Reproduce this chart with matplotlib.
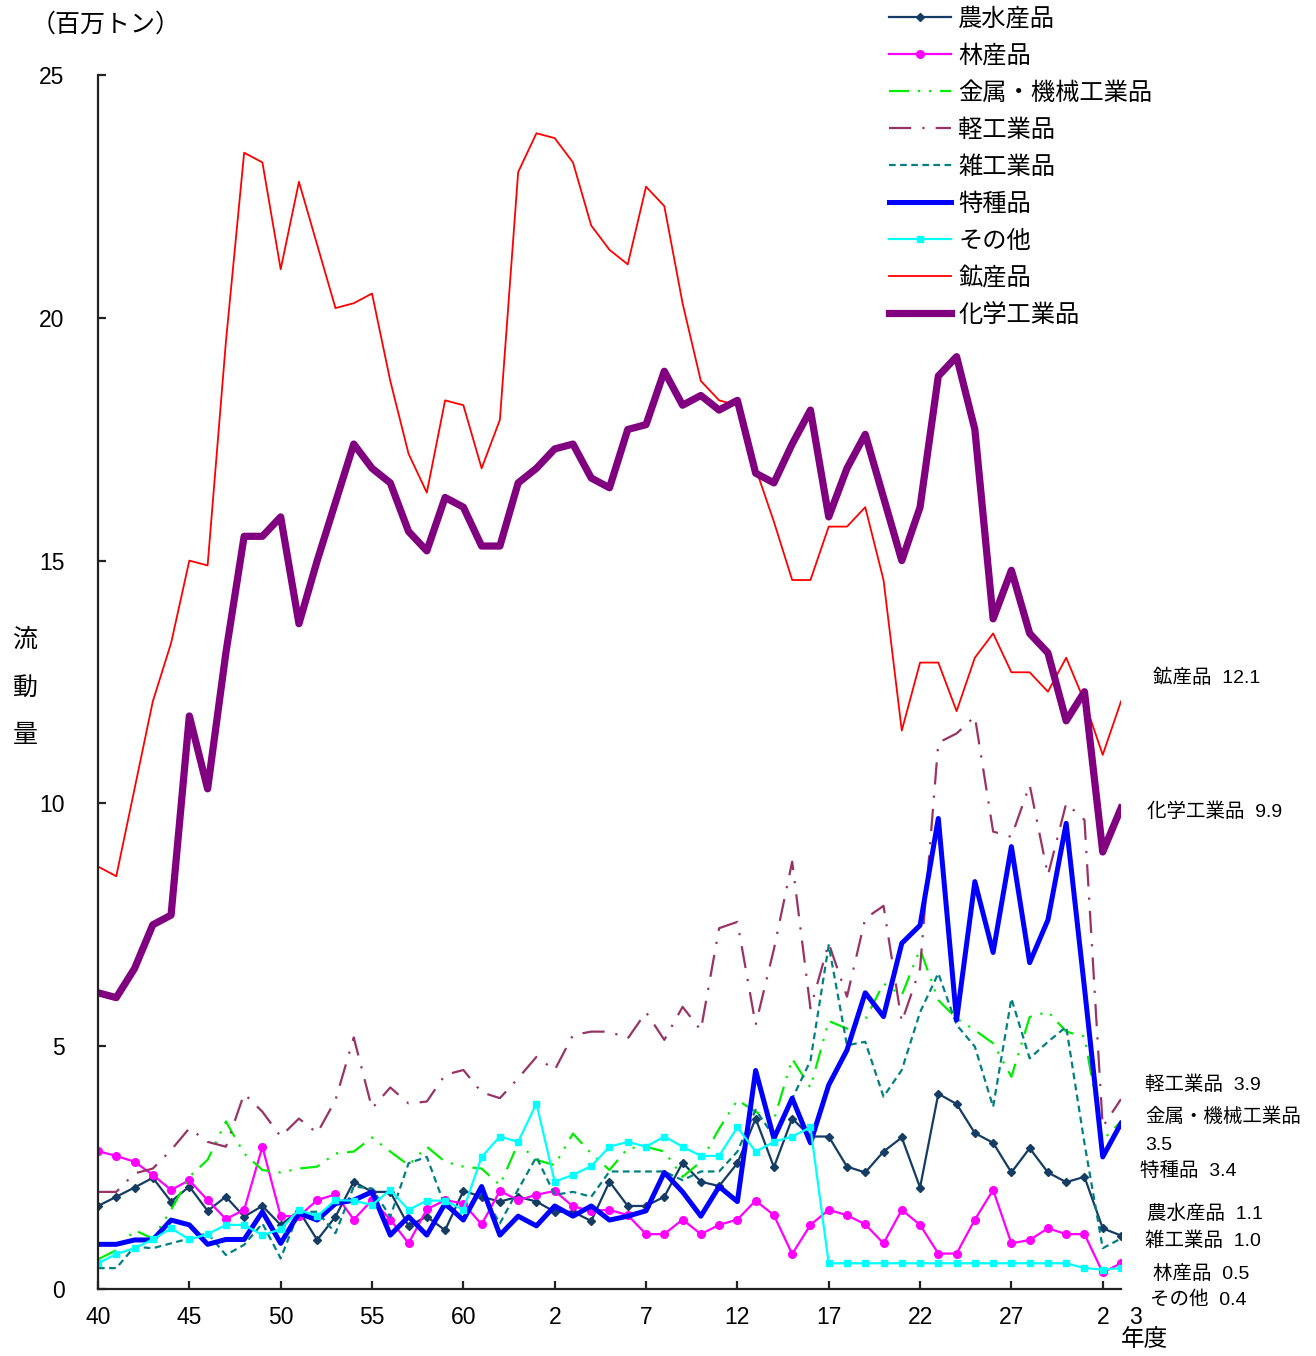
import matplotlib
matplotlib.use("Agg")
import matplotlib.pyplot as plt
import numpy as np

plt.rcParams['font.family'] = ['Liberation Sans', 'Noto Sans CJK JP', 'DejaVu Sans']

# fiscal years 1965 (S40) .. 2021 (R3)
years = np.arange(1965, 2022)

# data, million tons
nousui = [1.71, 1.90, 2.09, 2.29, 1.80, 2.11, 1.61, 1.90, 1.49, 1.71,
          1.32, 1.61, 1.01, 1.49, 2.21, 2.00, 2.00, 1.30, 1.49, 1.21,
          2.02, 1.90, 1.80, 1.90, 1.80, 1.59, 1.59, 1.40, 2.21, 1.71,
          1.71, 1.90, 2.60, 2.21, 2.12, 2.59, 3.51, 2.51, 3.51, 3.14,
          3.14, 2.52, 2.40, 2.83, 3.12, 2.09, 4.02, 3.81, 3.21, 3.01,
          2.40, 2.90, 2.40, 2.20, 2.31, 1.25, 1.10]
rinsan = [2.84, 2.74, 2.62, 2.35, 2.04, 2.24, 1.83, 1.44, 1.63, 2.93,
          1.50, 1.50, 1.83, 1.95, 1.43, 1.83, 1.43, 0.94, 1.64, 1.83,
          1.76, 1.33, 2.02, 1.83, 1.94, 2.02, 1.70, 1.61, 1.63, 1.52,
          1.13, 1.13, 1.43, 1.13, 1.32, 1.43, 1.82, 1.52, 0.72, 1.32,
          1.63, 1.52, 1.33, 0.94, 1.63, 1.32, 0.73, 0.73, 1.43, 2.04,
          0.94, 1.01, 1.25, 1.13, 1.13, 0.34, 0.53]
kinzoku = [0.61, 0.80, 1.21, 1.04, 1.63, 2.31, 2.66, 3.45, 2.79, 2.45,
           2.40, 2.48, 2.52, 2.79, 2.83, 3.12, 2.83, 2.55, 2.93, 2.62,
           2.52, 2.48, 2.14, 3.00, 2.66, 2.55, 3.20, 2.79, 2.45, 2.90,
           2.93, 2.83, 2.31, 2.62, 3.30, 3.89, 3.65, 3.48, 4.74, 4.15,
           5.52, 5.36, 5.55, 6.29, 6.05, 7.00, 5.95, 5.57, 5.33, 5.06,
           4.37, 5.60, 5.71, 5.30, 5.20, 3.07, 3.45]
keikou = [2.00, 2.00, 2.38, 2.48, 2.86, 3.31, 3.03, 2.93, 4.02, 3.65,
          3.14, 3.51, 3.21, 3.89, 5.18, 3.72, 4.15, 3.82, 3.86, 4.41,
          4.51, 4.05, 3.93, 4.34, 4.78, 4.51, 5.23, 5.30, 5.30, 5.16,
          5.70, 5.13, 5.81, 5.33, 7.43, 7.56, 5.44, 7.00, 8.80, 5.78,
          7.12, 6.02, 7.63, 7.89, 5.50, 6.60, 11.25, 11.44, 11.79, 9.42,
          9.31, 10.38, 8.52, 10.00, 9.66, 3.34, 3.91]
zakkou = [0.43, 0.43, 0.87, 0.84, 0.94, 1.04, 1.15, 0.70, 0.91, 1.35,
          0.63, 1.59, 1.59, 1.15, 2.11, 2.07, 1.49, 2.59, 2.72, 1.70,
          1.46, 2.00, 1.35, 2.05, 2.72, 1.94, 2.00, 1.90, 2.42, 2.42,
          2.42, 2.42, 2.24, 2.42, 2.42, 2.83, 3.69, 3.14, 3.92, 4.70,
          7.08, 5.02, 5.09, 3.96, 4.51, 5.70, 6.50, 5.44, 4.99, 3.75,
          5.98, 4.75, 5.09, 5.40, 3.00, 0.84, 1.04]
tokushu = [0.92, 0.92, 1.01, 1.01, 1.42, 1.32, 0.92, 1.02, 1.02, 1.59,
           0.94, 1.56, 1.42, 1.76, 1.83, 2.00, 1.11, 1.49, 1.11, 1.76,
           1.42, 2.11, 1.11, 1.50, 1.30, 1.71, 1.50, 1.71, 1.42, 1.50,
           1.61, 2.40, 2.00, 1.50, 2.11, 1.80, 4.50, 3.10, 3.93, 3.01,
           4.20, 4.92, 6.10, 5.61, 7.12, 7.49, 9.69, 5.54, 8.39, 6.93,
           9.11, 6.72, 7.60, 9.59, 6.20, 2.72, 3.41]
sonota = [0.53, 0.72, 0.84, 1.02, 1.25, 1.02, 1.13, 1.32, 1.32, 1.11,
          1.23, 1.63, 1.50, 1.83, 1.82, 1.73, 2.04, 1.63, 1.82, 1.82,
          1.63, 2.72, 3.14, 3.03, 3.82, 2.21, 2.35, 2.53, 2.93, 3.03,
          2.93, 3.14, 2.93, 2.74, 2.74, 3.33, 2.83, 3.03, 3.14, 3.33,
          0.53, 0.53, 0.53, 0.53, 0.53, 0.53, 0.53, 0.53, 0.53, 0.53,
          0.53, 0.53, 0.53, 0.53, 0.43, 0.40, 0.43]
kousan = [8.7, 8.5, 10.3, 12.1, 13.3, 15.0, 14.9, 19.5, 23.4, 23.2,
          21.0, 22.8, 21.5, 20.2, 20.3, 20.5, 18.7, 17.2, 16.4, 18.3,
          18.2, 16.9, 17.9, 23.0, 23.8, 23.7, 23.2, 21.9, 21.4, 21.1,
          22.7, 22.3, 20.3, 18.7, 18.3, 18.2, 16.9, 15.8, 14.6, 14.6,
          15.7, 15.7, 16.1, 14.6, 11.5, 12.9, 12.9, 11.9, 13.0, 13.5,
          12.7, 12.7, 12.3, 13.0, 12.1, 11.0, 12.1]
kagaku = [6.1, 6.0, 6.6, 7.5, 7.7, 11.8, 10.3, 13.1, 15.5, 15.5,
          15.9, 13.7, 15.0, 16.2, 17.4, 16.9, 16.6, 15.6, 15.2, 16.3,
          16.1, 15.3, 15.3, 16.6, 16.9, 17.3, 17.4, 16.7, 16.5, 17.7,
          17.8, 18.9, 18.2, 18.4, 18.1, 18.3, 16.8, 16.6, 17.4, 18.1,
          15.9, 16.9, 17.6, 16.3, 15.0, 16.1, 18.8, 19.2, 17.7, 13.8,
          14.8, 13.5, 13.1, 11.7, 12.3, 9.0, 9.9]

tick_years = [1965, 1970, 1975, 1980, 1985, 1990, 1995, 2000, 2005, 2010, 2015, 2020]
tick_labels = ['40', '45', '50', '55', '60', '2', '7', '12', '17', '22', '27', '2']

end_labels = ['鉱産品  12.1', '化学工業品  9.9', '軽工業品  3.9', '金属・機械工業品',
              '3.5', '特種品  3.4', '農水産品  1.1', '雑工業品  1.0', '林産品  0.5', 'その他  0.4']
end_pos = [(1153, 678), (1147, 812), (1145, 1085), (1145, 1117), (1145, 1145),
           (1140, 1172), (1147, 1214), (1145, 1241), (1153, 1274), (1150, 1300)]

W, H = 1316, 1356
fig = plt.figure(figsize=(W / 100, H / 100), dpi=100)
ax = fig.add_axes([98 / W, 1 - 1289 / H, (1121 - 98) / W, (1289 - 75) / H])

ax.plot(years, nousui, color='#143C64', lw=1.6, marker='D', ms=4, label='農水産品')
ax.plot(years, rinsan, color='#FF00FF', lw=1.6, marker='o', ms=5.5, label='林産品')
ax.plot(years, kinzoku, color='#00EE00', lw=1.6, dashes=(9, 4, 1, 4, 1, 4), label='金属・機械工業品')
ax.plot(years, keikou, color='#993366', lw=1.6, dashes=(10, 5, 1, 5), label='軽工業品')
ax.plot(years, zakkou, color='#008080', lw=1.6, dashes=(3, 2), label='雑工業品')
ax.plot(years, tokushu, color='#0000FF', lw=3.6, label='特種品')
ax.plot(years, sonota, color='#00FFFF', lw=1.6, marker='s', ms=5, label='その他')
ax.plot(years, kousan, color='#FF0000', lw=1.3, label='鉱産品')
ax.plot(years, kagaku, color='#800080', lw=5.2, label='化学工業品')

ax.set_xlim(1965, 2021)
ax.set_ylim(0, 25)
ax.set_yticks([0, 5, 10, 15, 20, 25])
ax.set_xticks(tick_years)
ax.set_xticklabels(tick_labels)
for s in ['top', 'right']:
    ax.spines[s].set_visible(False)
for s in ['left', 'bottom']:
    ax.spines[s].set_linewidth(1.6)
    ax.spines[s].set_color('#222222')
ax.tick_params(axis='both', direction='in', length=6, width=1.6, color='#222222',
               labelsize=16.5)
ax.tick_params(axis='y', pad=24)
ax.tick_params(axis='x', pad=12)

fig.text(1135 / W, 1 - 1318 / H, '3', fontsize=16.5, ha='center', va='center')
fig.text(1145 / W, 1 - 1340 / H, '年度', fontsize=17, ha='center', va='center',
         family='Noto Sans CJK JP')
fig.text(106 / W, 1 - 25 / H, '（百万トン）', fontsize=18, ha='center', va='center',
         family='Noto Sans CJK JP')
for ch, yy in zip('流動量', [640, 688, 735]):
    fig.text(25 / W, 1 - yy / H, ch, fontsize=18, ha='center', va='center',
             family='Noto Sans CJK JP')

for txt, (px, py) in zip(end_labels, end_pos):
    fig.text(px / W, 1 - py / H, txt, fontsize=14, ha='left', va='center')

leg = fig.legend(loc='upper left', bbox_to_anchor=(889 / W, 1 - 6 / H), frameon=False,
                 handlelength=2.55, handletextpad=0.3, labelspacing=0.45,
                 borderpad=0, borderaxespad=0, prop={'family': ['Noto Sans CJK JP'], 'size': 17.5})

fig.savefig('out.png', dpi=100)
